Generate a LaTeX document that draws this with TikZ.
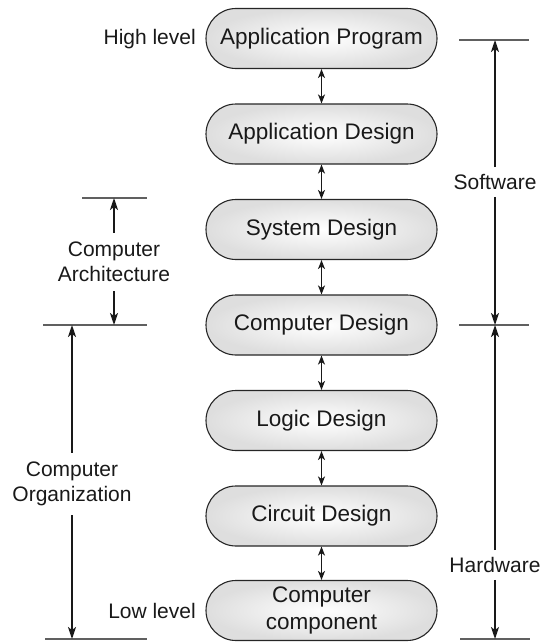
\documentclass[tikz,border=0pt]{standalone}
\usepackage{fontspec}
\setmainfont{Liberation Sans}
\usetikzlibrary{shapes.misc,arrows.meta}
\begin{document}
\begin{tikzpicture}[x=1pt,y=-1pt,
 blk/.style={rounded rectangle, draw=black!85, line width=1.1pt, inner color=white, outer color=gray!26,
   minimum width=231pt, minimum height=60pt, inner sep=0pt, align=center,
   font=\fontsize{22.5}{27}\selectfont, text=black!90},
 lbl/.style={font=\fontsize{21}{25}\selectfont, align=center, inner xsep=1pt, inner ysep=7pt, text=black!90},
 tick/.style={draw=gray!75!black, line width=1.4pt},
 dim/.style={line width=1.7pt, draw=black!90, -{Stealth[length=12pt,width=8pt,inset=3pt]}},
 link/.style={line width=1.6pt, draw=black!90, {Stealth[length=9pt,width=7pt,inset=2.5pt]}-{Stealth[length=9pt,width=7pt,inset=2.5pt]}}]
\useasboundingbox (0,0) rectangle (540,642);

% main stack
\node[blk] (n1) at (321.5,38.5) {Application Program};
\node[blk] (n2) at (321.5,134) {Application Design};
\node[blk] (n3) at (321.5,229.5) {System Design};
\node[blk] (n4) at (321.5,325) {Computer Design};
\node[blk] (n5) at (321.5,420.5) {Logic Design};
\node[blk] (n6) at (321.5,516) {Circuit Design};
\node[blk] (n7) at (321.5,610.5) {Computer\\component};

\draw[link] (n1.south) -- (n2.north);
\draw[link] (n2.south) -- (n3.north);
\draw[link] (n3.south) -- (n4.north);
\draw[link] (n4.south) -- (n5.north);
\draw[link] (n5.south) -- (n6.north);
\draw[link] (n6.south) -- (n7.north);

% level labels
\node[lbl, anchor=east, inner ysep=1pt] (hl) at (197,39) {High level};
\node[lbl, anchor=east, inner ysep=1pt] (ll) at (197,611) {Low level};

% left ticks
\coordinate (caT) at (114,198);
\coordinate (caB) at (114,325);
\coordinate (coT) at (72,325);
\coordinate (coB) at (72,639);
\draw[tick] (82,198) -- (147,198);
\draw[tick] (43,325) -- (147,325);
\draw[tick] (45,639) -- (147,639);

\node[lbl, inner ysep=9pt] (ca) at (114,262) {Computer\\Architecture};
\draw[dim] (ca.north) -- (caT);
\draw[dim] (ca.south) -- (caB);

\node[lbl, inner ysep=9pt] (co) at (72,484) {Computer\\Organization};
\draw[dim] (co.north) -- (coT);
\draw[dim] (co.south) -- (coB);

% right ticks
\coordinate (swT) at (495,40);
\coordinate (swB) at (495,325);
\coordinate (hwT) at (495,325);
\coordinate (hwB) at (495,639);
\draw[tick] (459,40) -- (529,40);
\draw[tick] (459,325) -- (529,325);
\draw[tick] (460,639) -- (530,639);

\node[lbl] (sw) at (495,182) {Software};
\draw[dim] (sw.north) -- (swT);
\draw[dim] (sw.south) -- (swB);

\node[lbl] (hw) at (495,565) {Hardware};
\draw[dim] (hw.north) -- (hwT);
\draw[dim] (hw.south) -- (hwB);
\end{tikzpicture}
\end{document}
